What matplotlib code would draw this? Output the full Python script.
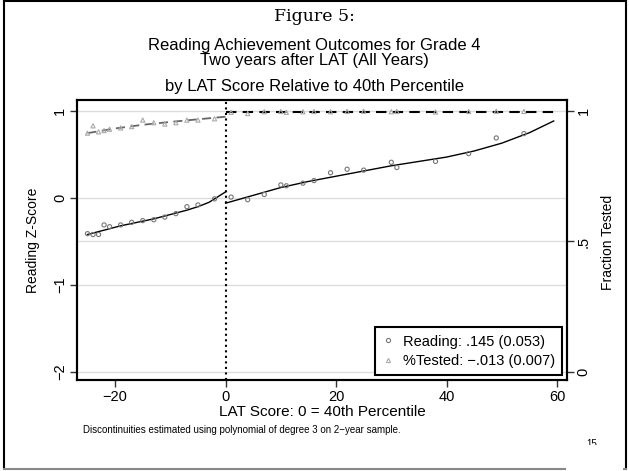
import matplotlib.pyplot as plt
from matplotlib.lines import Line2D
import numpy as np

plt.rcParams['font.family'] = ['Liberation Sans', 'DejaVu Sans']

# binned reading z-scores (circles)
read_x = [-25, -24, -23, -22, -21, -19, -17, -15, -13, -11, -9, -7, -5, -2,
          1, 4, 7, 10, 11, 14, 16, 19, 22, 25, 30, 31, 38, 44, 49, 54]
read_y = [-0.41, -0.42, -0.42, -0.31, -0.33, -0.31, -0.28, -0.26, -0.25, -0.22,
          -0.18, -0.10, -0.08, -0.01, 0.01, -0.02, 0.04, 0.15, 0.14, 0.17,
          0.20, 0.29, 0.33, 0.32, 0.41, 0.35, 0.42, 0.51, 0.69, 0.74]

# fitted reading curve
fitL_x = [-25, -22, -19, -16, -13, -10, -7, -5, -3, -1, 0]
fitL_y = [-0.42, -0.37, -0.32, -0.28, -0.24, -0.19, -0.14, -0.10, -0.05, 0.03, 0.07]
fitR_x = [0, 5, 10, 15, 20, 25, 30, 35, 40, 45, 50, 55, 59.4]
fitR_y = [-0.06, 0.03, 0.12, 0.19, 0.25, 0.31, 0.37, 0.42, 0.47, 0.54, 0.63, 0.75, 0.885]

# fraction tested (triangles)
test_x = read_x
test_y = [0.915, 0.943, 0.92, 0.925, 0.93, 0.935, 0.94, 0.965, 0.955, 0.95,
          0.955, 0.965, 0.965, 0.97, 0.995, 0.99, 0.997, 0.998, 0.995, 0.997,
          0.998, 0.997, 0.998, 0.999, 0.997, 0.998, 0.996, 0.998, 0.999, 0.998]
tfitL_x = [-25, -20, -15, -10, -5, 0]
tfitL_y = [0.915, 0.933, 0.947, 0.958, 0.968, 0.978]
tfitR_x = [0, 59.4]
tfitR_y = [0.997, 0.997]

fig = plt.figure(figsize=(6.29, 4.71), dpi=100)
ax = fig.add_axes([0.1224, 0.1932, 0.779, 0.5945])
ax2 = ax.twinx()

lo, hi = -2.092, 1.126
ax.set_ylim(lo, hi)
ax2.set_ylim((lo + 2) / 3, (hi + 2) / 3)
ax.set_xlim(-26.9, 61.8)

for g in [1, 0, -0.5, -1, -2]:
    ax.axhline(g, color='#dddddd', lw=1, zorder=0)

ax.axvline(0, color='black', ls=':', lw=1.5, zorder=1)

ax.plot(fitL_x, fitL_y, color='black', lw=1)
ax.plot(fitR_x, fitR_y, color='black', lw=1)
ax.scatter(read_x, read_y, s=9, facecolors='none', edgecolors='#777777', lw=0.8, zorder=3)

ax2.plot(tfitL_x, tfitL_y, color='#666666', ls=(0, (5, 3)), lw=1.3)
ax2.plot(tfitR_x, tfitR_y, color='black', ls=(0, (5, 3)), lw=1.5)
ax2.scatter(test_x, test_y, s=9, marker='^', facecolors='none', edgecolors='#aaaaaa', lw=0.8, zorder=3)

ax.set_xticks([-20, 0, 20, 40, 60])
ax.set_yticks([1, 0, -1, -2])
ax.set_yticklabels(['1', '0', '\u22121', '\u22122'], rotation=90, va='center')
ax2.set_yticks([1, 0.5, 0])
ax2.set_yticklabels(['1', '.5', '0'], rotation=90, va='center')
ax.set_xticklabels(['\u221220', '0', '20', '40', '60'])
for a in (ax, ax2):
    a.tick_params(labelsize=10.5, length=5, width=1, pad=2, color='#333333')
    for s in a.spines.values():
        s.set_linewidth(1.5)

ax.set_xlabel('LAT Score: 0 = 40th Percentile', fontsize=11, labelpad=1)
ax.set_ylabel('Reading Z-Score', fontsize=10)
ax.yaxis.set_label_coords(-0.075, 0.5)
ax2.set_ylabel('Fraction Tested', fontsize=10)
ax2.yaxis.set_label_coords(1.07, 0.49)

h1 = Line2D([], [], marker='o', ls='none', mfc='none', mec='#777777', ms=3, mew=0.8)
h2 = Line2D([], [], marker='^', ls='none', mfc='none', mec='#aaaaaa', ms=3, mew=0.8)
leg = ax2.legend([h1, h2], ['Reading: .145 (0.053)', '%Tested: \u2212.013 (0.007)'],
                 loc='lower right', bbox_to_anchor=(0.99, 0.018), borderaxespad=0,
                 fontsize=10.5, fancybox=False, framealpha=1, edgecolor='black',
                 handlelength=0.8, handletextpad=0.6, borderpad=0.5, labelspacing=0.35)
leg.get_frame().set_linewidth(1.5)

fig.text(0.5, 0.966, 'Figure 5:', ha='center', va='center', fontsize=12.5, family='DejaVu Serif')
fig.text(0.5, 0.903, 'Reading Achievement Outcomes for Grade 4', ha='center', va='center', fontsize=12)
fig.text(0.5, 0.871, 'Two years after LAT (All Years)', ha='center', va='center', fontsize=12)
fig.text(0.5, 0.817, 'by LAT Score Relative to 40th Percentile', ha='center', va='center', fontsize=12)
fig.text(0.132, 0.086, 'Discontinuities estimated using polynomial of degree 3 on 2\u2212year sample.',
         ha='left', va='center', fontsize=7)
fig.text(0.94, 0.057, '15', ha='center', va='center', fontsize=7)
fig.patches.append(plt.Rectangle((0.9, 0.0), 0.09, 0.056, transform=fig.transFigure,
                                 facecolor='white', edgecolor='none', zorder=5))

# page border
fig.add_artist(Line2D([0.007, 0.007], [0.004, 0.998], color='black', lw=1.5))
fig.add_artist(Line2D([0.995, 0.995], [0.004, 0.998], color='black', lw=1.5))
fig.add_artist(Line2D([0.007, 0.995], [0.997, 0.997], color='black', lw=1.5))
fig.add_artist(Line2D([0.007, 0.995], [0.004, 0.004], color='#888888', lw=1.5))

fig.savefig('out.png', dpi=100)
